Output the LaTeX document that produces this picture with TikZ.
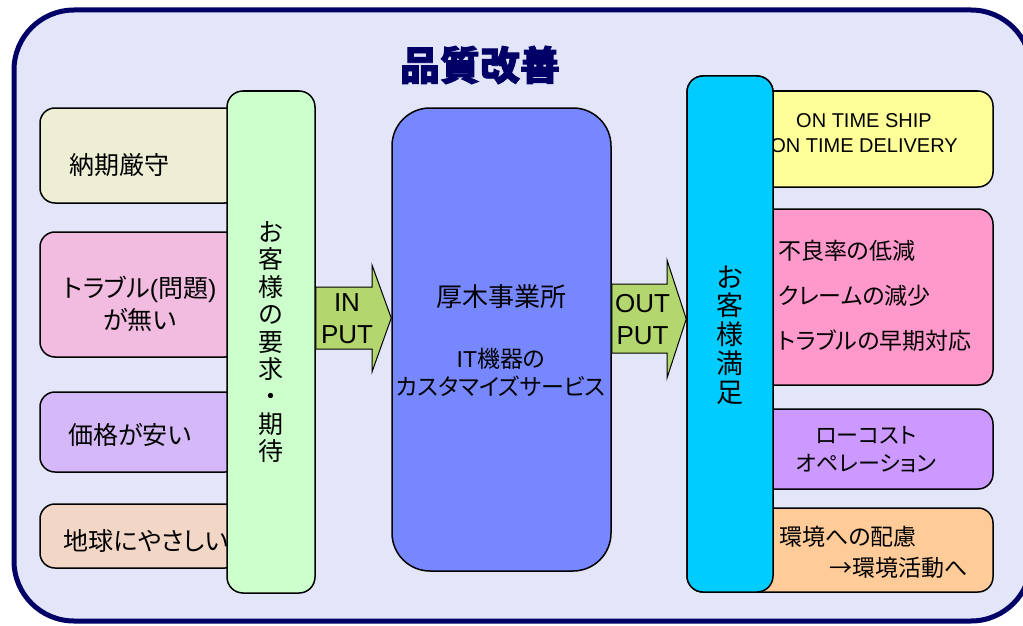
\documentclass[tikz,border=0pt]{standalone}
\usepackage{fontspec}
\setmainfont{Noto Sans CJK JP}[RawFeature=+palt]
\newfontfamily\lat{Liberation Sans}
\newfontfamily\heavy{Noto Sans CJK JP}[BoldFeatures={FakeBold=2}]
\usetikzlibrary{calc,positioning}
\definecolor{navy}{HTML}{000066}
\definecolor{panel}{HTML}{E3E5F9}
\definecolor{wishA}{HTML}{EEEED5}
\definecolor{wishB}{HTML}{F2BBE0}
\definecolor{wishC}{HTML}{D5B8F8}
\definecolor{wishD}{HTML}{F2D6C6}
\definecolor{wishbar}{HTML}{CCFFCC}
\definecolor{flowgreen}{HTML}{B3D66E}
\definecolor{plantblue}{HTML}{7788FF}
\definecolor{gladbar}{HTML}{00CCFF}
\definecolor{gladA}{HTML}{FFFF99}
\definecolor{gladB}{HTML}{FF99CC}
\definecolor{gladC}{HTML}{CC99FF}
\definecolor{gladD}{HTML}{FFCC99}
\tikzset{
  frame/.style = {draw=navy, line width=5pt, fill=panel, rounded corners=60pt},
  card/.style  = {draw, line width=1.5pt, rounded corners=15pt, inner sep=0pt},
  bar/.style   = {card, rounded corners=16pt},
  flow/.style  = {draw, line width=1pt, fill=flowgreen, line join=miter},
  tag/.style   = {align=center, inner sep=0pt, font=\fontsize{25}{32}\selectfont},
  entag/.style = {tag, font=\lat\fontsize{26}{32}\selectfont},
}

\begin{document}
\begin{tikzpicture}[x=1pt, y=-1pt]
  \useasboundingbox (0,0) rectangle (1023,626);
  \draw[frame] (14,10) rectangle (1031,621);
  \node[font=\heavy\bfseries\fontsize{40}{40}\selectfont, text=navy, inner sep=0pt] (title) at (480,65) {品質改善};

  % customer wishes
  \node[card, fill=wishA, minimum width=200pt, minimum height=95pt]  (w1) at (140,155.5) {};
  \node[card, fill=wishB, minimum width=200pt, minimum height=125pt] (w2) at (140,294.5) {};
  \node[card, fill=wishC, minimum width=200pt, minimum height=80pt]  (w3) at (140,432) {};
  \node[card, fill=wishD, minimum width=200pt, minimum height=64pt]  (w4) at (140,536) {};
  \node[tag] (w1t) at (119,165) {納期厳守};
  \node[tag] (w2t) at (140,304) {トラブル{\lat(}問題{\lat)}\\が無い};
  \node[tag] (w3t) at (130,435) {価格が安い};
  \node[tag] (w4t) at (146,541) {地球にやさしい};

  \node[bar, fill=wishbar, minimum width=88pt, minimum height=502pt] (need) at (271,342) {};
  \node[tag, font=\fontsize{25}{27.4}\selectfont] (needt) at (271,342)
    {お\\客\\様\\の\\要\\求\\・\\期\\待};

  % the plant
  \node[card, rounded corners=38pt, fill=plantblue, minimum width=219pt, minimum height=463pt] (plant) at (501.5,339.5) {};
  \node[tag, font=\fontsize{26}{32}\selectfont] (plantt) at (501,297) {厚木事業所};
  \node[tag, font=\fontsize{23}{28}\selectfont] (plants) at (501,372) {{\lat IT}機器の\\カスタマイズサービス};

  % input / output
  \draw[flow] (need.east |- 0,287) -- (372,287) -- (372,265) -- (plant.west |- 0,318)
    -- (372,372) -- (372,349) -- (need.east |- 0,349) -- cycle;
  \node[entag] (inlbl) at (347,319) {IN\\PUT};

  \node[bar, fill=gladbar, minimum width=86pt, minimum height=516pt] (glad) at (730,334) {};
  \draw[flow] (plant.east |- 0,284) -- (667,284) -- (667,260) -- (glad.west |- 0,319)
    -- (667,378) -- (667,353) -- (plant.east |- 0,353) -- cycle;
  \node[entag] (outlbl) at (642.5,320) {OUT\\PUT};

  % customer satisfaction
  \node[card, fill=gladA, minimum width=258pt, minimum height=96pt]  (g1) at (864,139) {};
  \node[card, fill=gladB, minimum width=258pt, minimum height=176pt] (g2) at (864,297) {};
  \node[card, fill=gladC, minimum width=258pt, minimum height=80pt]  (g3) at (864,449) {};
  \node[card, fill=gladD, minimum width=258pt, minimum height=84pt]  (g4) at (864,550) {};
  \node[tag, font=\lat\fontsize{20}{25}\selectfont] (g1t) at (864,133) {ON TIME SHIP\\ON TIME DELIVERY};
  \node[tag, align=left, anchor=west, font=\fontsize{23}{45}\selectfont] (g2t) at (778,296)
    {不良率の低減\\クレームの減少\\トラブルの早期対応};
  \node[tag, font=\fontsize{22}{28}\selectfont] (g3t) at (866,450) {ローコスト\\オペレーション};
  \node[tag, align=left, anchor=west, font=\fontsize{23}{31}\selectfont] (g4t) at (779,552)
    {環境への配慮\\\hspace*{50pt}→環境活動へ};

  \node[bar, fill=gladbar, minimum width=86pt, minimum height=516pt] at (glad) {};
  \node[tag, font=\fontsize{27}{28.8}\selectfont] (gladt) at (730,335) {お\\客\\様\\満\\足};
\end{tikzpicture}
\end{document}
